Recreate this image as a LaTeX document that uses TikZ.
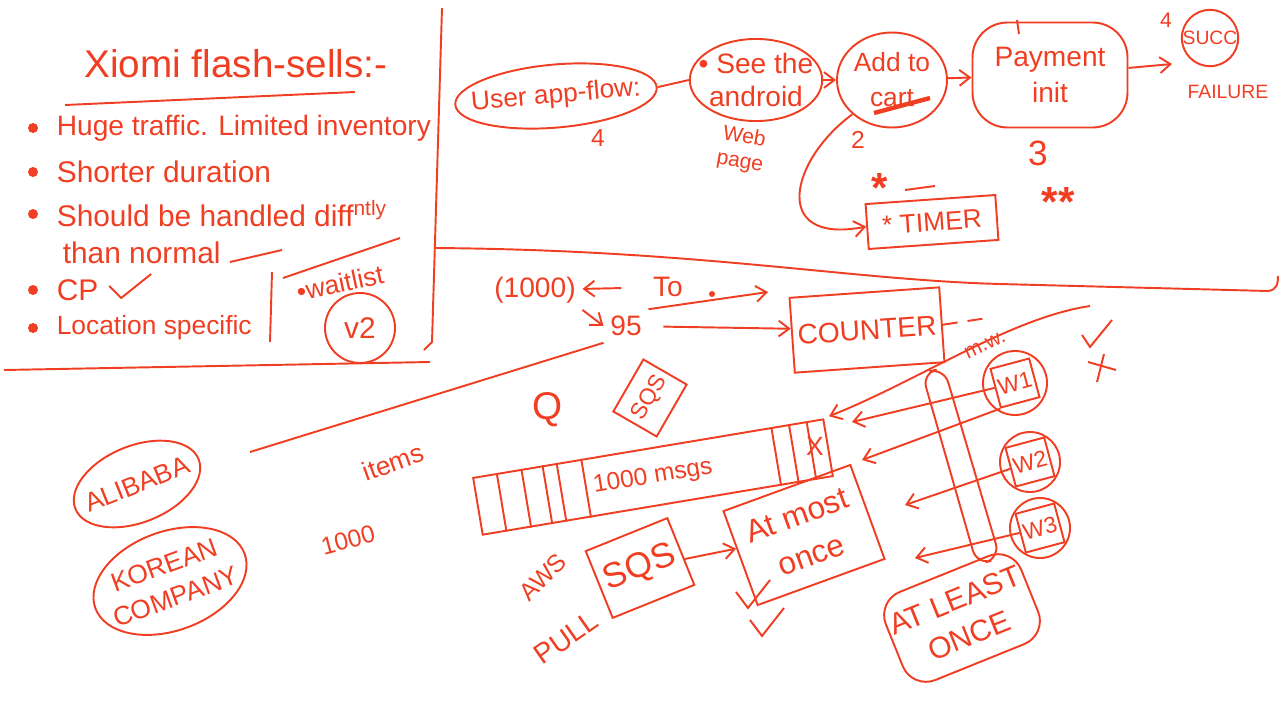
\documentclass[tikz,border=0pt]{standalone}
\usepackage{fontspec}
\setmainfont{Liberation Sans}
\usetikzlibrary{positioning,shapes.geometric,arrows.meta,calc}
\definecolor{ink}{RGB}{240,62,35}
\newcommand\fsz[2]{\fontsize{#1}{#2}\selectfont}

\begin{document}
\begin{tikzpicture}[x=0.2mm,y=-0.2mm,color=ink,line width=1.1pt,
    box/.style={draw,inner sep=2pt},
    blob/.style={draw,ellipse,inner sep=0pt},
    tip/.style={-{Straight Barb[length=6pt,width=9pt]}}]
    \useasboundingbox (0,0) rectangle (1280,705);

    % left panel
    \node[font=\fsz{22}{24}] (title) at (236,64) {Xiomi flash-sells:-};
    \draw (65,105) -- (355,92);
    \foreach \y/\t/\s in {128/{Huge traffic. Limited inventory}/16, 172/{Shorter duration}/17,
        214/{Should be handled diff\textsuperscript{ntly}}/17, 290/CP/17, 328/{Location specific}/15}
    {
        \fill (33,\y) circle (1mm);
        \node[anchor=west,font=\fsz{\s}{\s}] (item\y) at (50,\y) {\t};
    }
    \node[anchor=west,font=\fsz{17}{17}] (cont) at (56,253) {than normal};
    \draw (230,262) -- (282,250);
    \draw (item290.east) ++(4,-4) -- ++(12,12) -- ++(30,-24);
    \draw (272,272) -- (270,342);
    \draw (283,278) -- (400,238);
    \node[rotate=12,font=\fsz{15}{15}] (wait) at (340,283) {•waitlist};
    \node[draw,circle,minimum size=14mm,font=\fsz{17}{17}] (v2) at (360,328) {v2};
    \draw (442,8) -- (432,342) -- (424,350);
    \draw (4,370) -- (430,362);

    % user app flow
    \node[blob,rotate=5,inner xsep=-2.7mm,inner ysep=2mm,font=\fsz{15}{15}] (flow) at (556,96) {User app-flow:};
    \node[font=\fsz{14}{14}] (four) at (598,138) {4};
    \node[blob,inner xsep=-2.1mm,inner ysep=0.4mm,align=center,font=\fsz{16}{19}] (view) at (756,80) {• See the\\android};
    \node[rotate=-10,align=center,font=\fsz{12}{14}] (web) at (742,150) {Web\\page};
    \node[blob,minimum width=22mm,minimum height=19mm,align=center,font=\fsz{15}{20}] (cart) at (892,80) {Add to\\cart};
    \draw[line width=2.5pt] (874,113) -- (930,98);
    \node[font=\fsz{14}{14}] (two) at (858,140) {2};
    \node[box,rounded corners=7mm,minimum width=31mm,minimum height=21mm,align=center,font=\fsz{16}{20}] (pay) at (1050,75) {Payment\\init};
    \draw (1017,20) -- (1019,34);
    \node[font=\fsz{20}{20}] (three) at (1038,153) {3};
    \node[draw,circle,minimum size=10mm,inner sep=0pt,font=\fsz{11}{11}] (succ) at (1210,38) {SUCC};
    \node[font=\fsz{12}{12}] (sfour) at (1166,20) {4};
    \node[font=\fsz{11}{11}] (fail) at (1228,92) {FAILURE};
    \coordinate (payout) at (1172,64);
    \draw (flow.east) -- (view.west);
    \draw[tip] (view) -- (cart);
    \draw[tip] (cart) -- (pay);
    \draw[tip] (pay) -- (payout);
    \node[box,rotate=4,minimum width=26mm,minimum height=9mm,font=\fsz{15}{15}] (timer) at (932,222) {* TIMER};
    \draw[tip] (cart.south west) .. controls (790,160) and (770,245) .. (timer.west);
    \node[font=\bfseries\fsz{24}{24}] (star) at (880,188) {*};
    \node[font=\bfseries\fsz{24}{24}] (stars) at (1058,202) {**};
    \draw (905,190) -- (935,186);
    \draw (434,248) .. controls (700,250) and (850,280) .. (1000,284) -- (1268,291)
        .. controls (1276,290) and (1278,285) .. (1278,276);

    % counter and queue
    \node[font=\fsz{16}{16}] (lot) at (535,290) {(1000)};
    \node[font=\fsz{16}{16}] (tzero) at (668,287) {To};
    \node[font=\fsz{16}{16}] (ninefive) at (626,326) {95};
    \node[box,rotate=4,minimum width=30mm,minimum height=15mm,font=\fsz{16}{16}] (counter) at (867,330) {COUNTER};
    \draw[tip,shorten <=5mm] (tzero) -- (lot);
    \draw[tip] (lot.south east) -- (ninefive.west);
    \coordinate (tzend) at (768,292);
    \draw[tip] (ninefive.north east) -- (tzend);
    \fill (712,294) circle (0.6mm);
    \draw[tip,shorten <=3mm] (ninefive) -- (counter);
    \coordinate (itemsline) at (250,452);
    \draw (itemsline) -- (ninefive.south west);
    \draw[dash pattern=on 3mm off 2mm] (counter.east) -- ++(40,-6);

    \node[font=\fsz{22}{22}] (q) at (548,410) {Q};
    \node[box,rotate=60,minimum width=12mm,minimum height=10mm,font=\fsz{13}{13}] (sqsq) at (650,398) {SQS};
    \node[box,rotate=9.5,minimum width=71mm,minimum height=11.5mm,font=\fsz{14}{14}] (queue) at (653,477) {1000 msgs};
    \foreach \t in {0.07,0.14,0.20,0.24,0.31,0.85,0.90,0.95}
        \draw ($(queue.north west)!\t!(queue.north east)$) -- ($(queue.south west)!\t!(queue.south east)$);
    \node[font=\fsz{15}{15}] (xmark) at (815,446) {X};

    \coordinate (mwtop) at (1090,306);
    \draw[tip,shorten >=3pt] (mwtop) .. controls (1010,318) and (920,380) .. (queue.north east);
    \node[rotate=25,font=\fsz{12}{12}] (mw) at (985,345) {m.w.};
    \draw (1082,335) -- (1090,347) -- (1112,320);
    \draw (1088,362) -- (1116,370);
    \draw (1104,354) -- (1097,382);

    % workers
    \draw[rounded corners=3mm] (922,373) -- (944,368) -- (1000,558) -- (977,565) -- cycle;
    \foreach \n/\x/\y/\r in {1/1015/383/6.4mm, 2/1030/462/6mm, 3/1040/528/6mm}
    {
        \node[box,rotate=15,minimum size=8mm,inner sep=0pt,font=\fsz{13}{13}] (w\n) at (\x,\y) {W\n};
        \draw (w\n.center) circle (\r);
    }
    \coordinate (in1) at (852,422);
    \coordinate (in2) at (862,460);
    \coordinate (in3) at (905,505);
    \coordinate (in4) at (915,558);
    \draw[tip] (w1) -- (in1);
    \draw[tip] (w1.south west) -- (in2);
    \draw[tip] (w2) -- (in3);
    \draw[tip] (w3) -- (in4);

    % delivery
    \node[box,rotate=20,minimum width=27mm,minimum height=20mm,align=center,font=\fsz{18}{24}] (amo) at (804,535) {At most\\once};
    \node[box,rotate=22,minimum width=17.6mm,minimum height=14.4mm,font=\fsz{20}{20}] (sqs) at (640,568) {SQS};
    \draw[tip] (sqs) -- (amo);
    \node[rotate=45,font=\fsz{14}{14}] (aws) at (543,577) {AWS};
    \node[rotate=35,font=\fsz{16}{16}] (pull) at (566,638) {PULL};
    \foreach \x/\y in {748/600,762/628}
        \draw (\x-12,\y-8) -- (\x,\y+8) -- (\x+22,\y-20);
    \node[box,rotate=22,rounded corners=5mm,minimum width=28mm,minimum height=19mm,align=center,font=\fsz{17}{22}] (alo) at (962,618) {AT LEAST\\ONCE};

    % companies
    \node[blob,rotate=22,inner xsep=-1.6mm,inner ysep=3.6mm,font=\fsz{15}{15}] (alibaba) at (137,484) {ALIBABA};
    \node[blob,rotate=20,inner xsep=-1.9mm,inner ysep=1.8mm,align=center,font=\fsz{15}{19}] (korean) at (170,581) {KOREAN\\COMPANY};
    \node[rotate=20,font=\fsz{15}{15}] (items) at (393,462) {items};
    \node[rotate=15,font=\fsz{14}{14}] (thousand) at (348,540) {1000};
\end{tikzpicture}
\end{document}
